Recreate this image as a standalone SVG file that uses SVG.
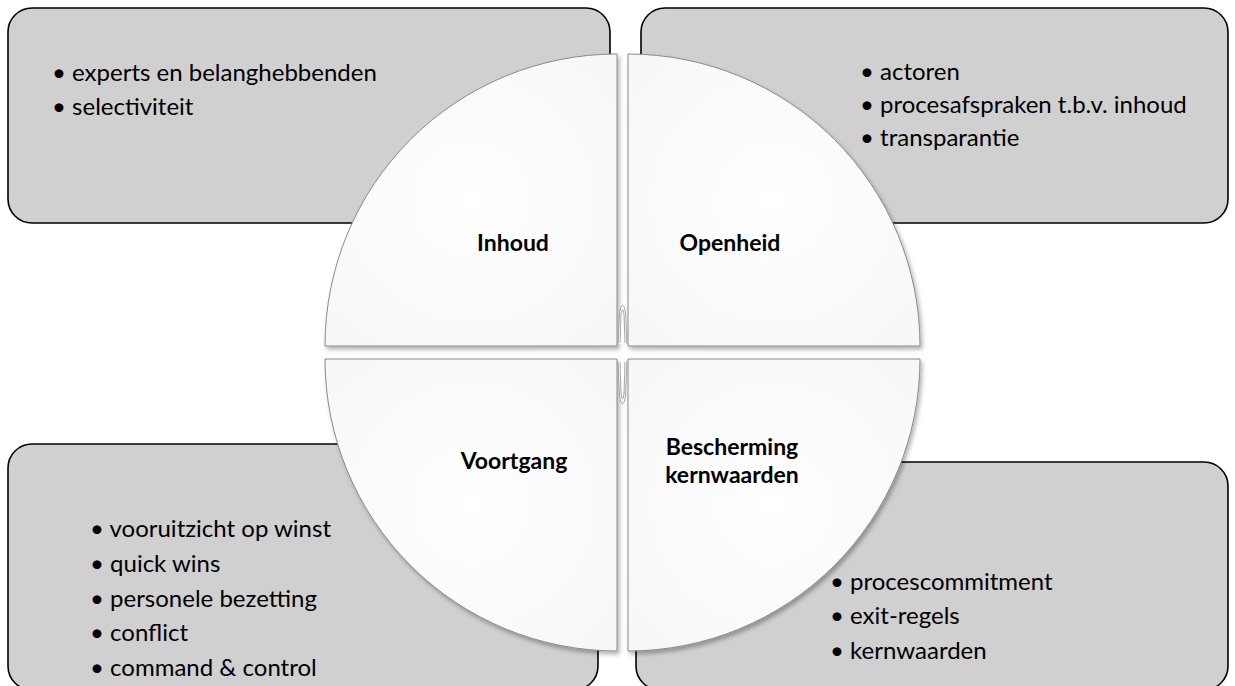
<svg xmlns="http://www.w3.org/2000/svg" width="1235" height="686" viewBox="0 0 1235 686">
  <defs>
    <filter id="shadow" x="-10%" y="-10%" width="120%" height="120%">
      <feDropShadow dx="2" dy="3" stdDeviation="2" flood-color="#000" flood-opacity="0.3"/>
    </filter>
    <radialGradient id="quadFill" cx="0.5" cy="0.5" r="0.7">
      <stop offset="0" stop-color="#ffffff"/>
      <stop offset="1" stop-color="#f7f7f7"/>
    </radialGradient>
  </defs>
  <style>
    .box { fill: #d0d0d0; stroke: #000; stroke-width: 1.6; }
    .quad { fill: url(#quadFill); stroke: #8a8a8a; stroke-width: 1; filter: url(#shadow); }
    .item { font-family: Lato, "Liberation Sans", sans-serif; font-size: 24px; fill: #000; }
    .label { font-family: Lato, "Liberation Sans", sans-serif; font-size: 23px; font-weight: bold; fill: #000; text-anchor: middle; }
    .clip { fill: #fff; stroke: #9a9a9a; stroke-width: 0.9; }
  </style>

  <!-- outer text panels -->
  <g id="panel-inhoud">
    <rect class="box" x="8" y="8" width="602" height="215" rx="24"/>
    <text class="item" x="52" y="81">• experts en belanghebbenden</text>
    <text class="item" x="52" y="115">• selectiviteit</text>
  </g>
  <g id="panel-openheid">
    <rect class="box" x="641" y="8" width="587" height="215" rx="24"/>
    <text class="item" x="860" y="80">• actoren</text>
    <text class="item" x="860" y="113">• procesafspraken t.b.v. inhoud</text>
    <text class="item" x="860" y="146">• transparantie</text>
  </g>
  <g id="panel-voortgang">
    <rect class="box" x="8" y="444" width="590" height="246" rx="24"/>
    <text class="item" x="90" y="537">• vooruitzicht op winst</text>
    <text class="item" x="90" y="572">• quick wins</text>
    <text class="item" x="90" y="607">• personele bezetting</text>
    <text class="item" x="90" y="641">• conflict</text>
    <text class="item" x="90" y="676">• command &amp; control</text>
  </g>
  <g id="panel-bescherming">
    <rect class="box" x="636" y="462" width="592" height="228" rx="24"/>
    <text class="item" x="830" y="590">• procescommitment</text>
    <text class="item" x="830" y="624">• exit-regels</text>
    <text class="item" x="830" y="659">• kernwaarden</text>
  </g>

  <!-- circle quadrants -->
  <g id="quad-inhoud">
    <path class="quad" d="M617,346 L325,346 A292,292 0 0 1 617,54 Z"/>
    <text class="label" x="513" y="251">Inhoud</text>
  </g>
  <g id="quad-openheid">
    <path class="quad" d="M628,346 L628,54 A292,292 0 0 1 920,346 Z"/>
    <text class="label" x="730" y="251">Openheid</text>
  </g>
  <g id="quad-voortgang">
    <path class="quad" d="M617,359 L617,651 A292,292 0 0 1 325,359 Z"/>
    <text class="label" x="514" y="469">Voortgang</text>
  </g>
  <g id="quad-bescherming">
    <path class="quad" d="M628,359 L920,359 A292,292 0 0 1 628,651 Z"/>
    <text class="label" x="732" y="455">Bescherming</text>
    <text class="label" x="732" y="483">kernwaarden</text>
  </g>

  <!-- small loops in the gaps between quadrants -->
  <g id="connectors">
    <path class="clip" d="M618,344 L619.5,312 Q622.5,298 625.5,312 L627,344"/>
    <path class="clip" fill="none" d="M620,343 L621,314 Q622.5,305 624,314 L625,343"/>
    <path class="clip" d="M618,361 L619.5,396 Q622.5,412 625.5,396 L627,361"/>
    <path class="clip" fill="none" d="M620,362 L621,394 Q622.5,404 624,394 L625,362"/>
  </g>
</svg>
